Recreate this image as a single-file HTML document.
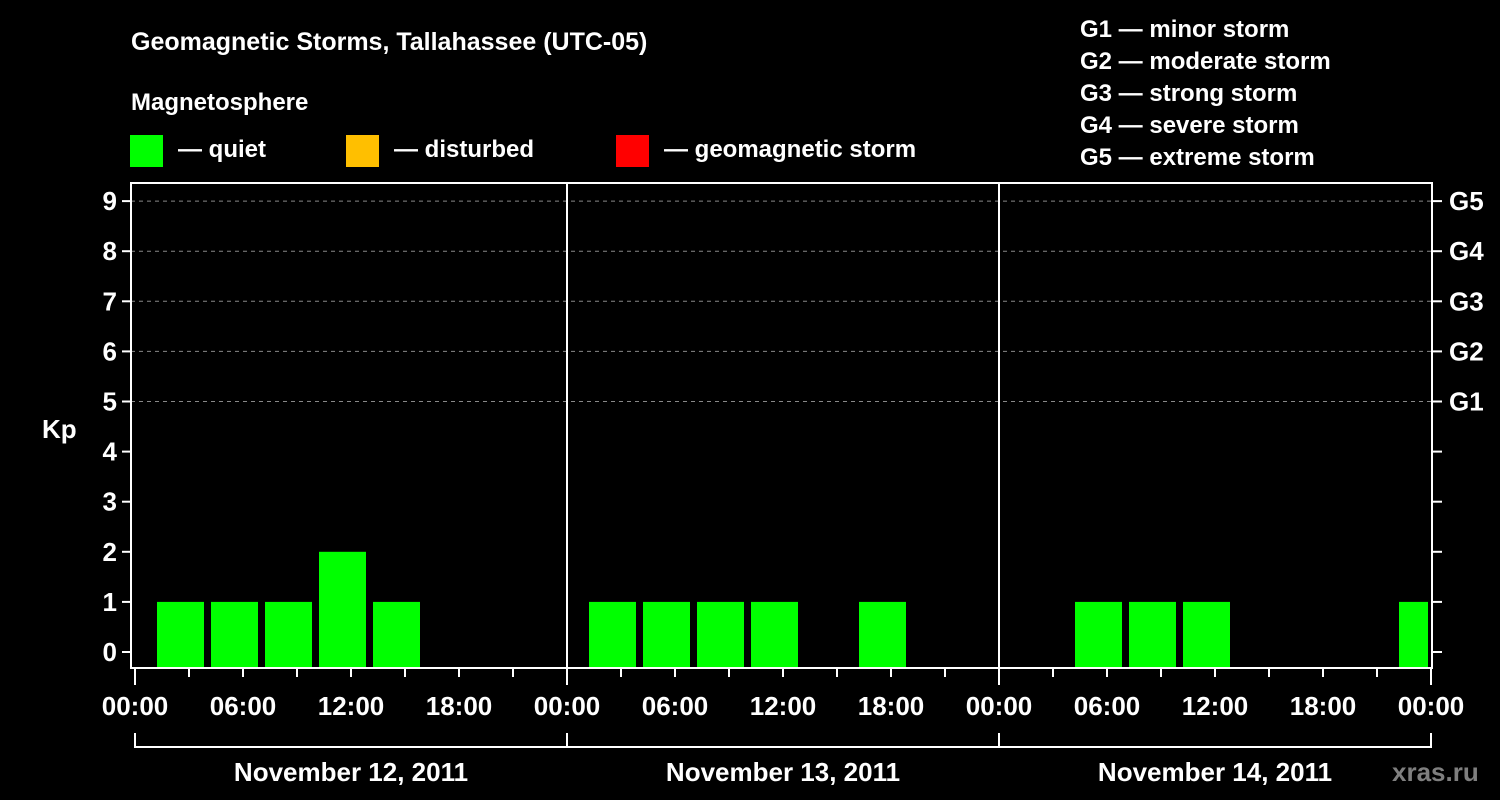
<!DOCTYPE html>
<html><head><meta charset="utf-8"><style>
html,body{margin:0;padding:0;background:#000;width:1500px;height:800px;overflow:hidden}
svg text{font-family:"Liberation Sans",Arial,sans-serif;font-weight:bold;fill:#fff}
</style></head><body>
<svg id="chart" width="1500" height="800" xmlns="http://www.w3.org/2000/svg">
<rect width="1500" height="800" fill="#000"/>
<text x="131" y="50" font-size="25">Geomagnetic Storms, Tallahassee (UTC-05)</text>
<text x="131" y="110" font-size="24">Magnetosphere</text>
<g><rect x="130" y="135" width="33" height="32" fill="#00ff00"/><text x="178" y="157" font-size="24">— quiet</text></g>
<g><rect x="346" y="135" width="33" height="32" fill="#ffbf00"/><text x="394" y="157" font-size="24">— disturbed</text></g>
<g><rect x="616" y="135" width="33" height="32" fill="#ff0000"/><text x="664" y="157" font-size="24">— geomagnetic storm</text></g>
<g font-size="24">
<text x="1080" y="37">G1 — minor storm</text>
<text x="1080" y="69">G2 — moderate storm</text>
<text x="1080" y="101">G3 — strong storm</text>
<text x="1080" y="133">G4 — severe storm</text>
<text x="1080" y="165">G5 — extreme storm</text>
</g>
<text x="42" y="438" font-size="26">Kp</text>
<text x="1392" y="781" font-size="26" style="fill:#7f7f7f">xras.ru</text>
<g id="plot"></g>
</svg>
<script>
const kpValues=[1,1,1,2,1,0,0,0, 1,1,1,1,0,1,0,0, 0,1,1,1,0,0,0,1];
const yTicks=[0,1,2,3,4,5,6,7,8,9];
const gLabels=["G1","G2","G3","G4","G5"];
const gLevels=[5,6,7,8,9];
const dayLabels=["November 12, 2011","November 13, 2011","November 14, 2011"];
const hourLabels=["00:00","06:00","12:00","18:00"];
const binStartHour=1;
const NS="http://www.w3.org/2000/svg";
const X0=135,DAYW=432,L=131,R=1432,T=183,B=668;
const x=h=>X0+h*DAYW/24;
const y=v=>652-v*50.1;
const g=document.getElementById('plot');
function mk(t,a){const e=document.createElementNS(NS,t);for(const k in a)e.setAttribute(k,a[k]);g.appendChild(e);return e;}
// grid
gLevels.forEach(v=>{const e=mk('line',{x1:L,x2:R,y1:y(v),y2:y(v),stroke:'#888','stroke-dasharray':'4,4','stroke-width':1});

});
// bars
kpValues.forEach((v,i)=>{if(v<=0)return;const s=x(binStartHour+i*3)+4,e2=Math.min(x(binStartHour+i*3+3)-3,R-4);
const r=mk('rect',{x:s,y:y(v),width:e2-s,height:B-y(v),fill:v>=5?'#ff0000':(v>=4?'#ffbf00':'#00ff00')});

});
// frame
const f=mk('rect',{x:L,y:T,width:R-L,height:B-T,fill:'none',stroke:'#fff','stroke-width':2});


for(let d=1;d<3;d++){const e=mk('line',{x1:x(d*24),x2:x(d*24),y1:T,y2:B,stroke:'#fff','stroke-width':2});

}
// y ticks
yTicks.forEach(v=>{mk('line',{x1:L-9,x2:L,y1:y(v),y2:y(v),stroke:'#fff','stroke-width':2});
mk('line',{x1:R,x2:R+10,y1:y(v),y2:y(v),stroke:'#fff','stroke-width':2});
const t=mk('text',{x:L-14,y:y(v)+9,'font-size':26,'text-anchor':'end'});t.textContent=v;

});
gLevels.forEach((v,i)=>{const t=mk('text',{x:1449,y:y(v)+9,'font-size':26});t.textContent=gLabels[i];

});
// x ticks
for(let h=0;h<=72;h+=3){const major=h%24==0;mk('line',{x1:x(h),x2:x(h),y1:B,y2:B+(major?17:9),stroke:'#fff','stroke-width':2});
if(h%6==0){const t=mk('text',{x:x(h),y:715,'font-size':26,'text-anchor':'middle'});t.textContent=hourLabels[(h%24)/6];

}}
// bracket
mk('polyline',{points:`${x(0)},733 ${x(0)},747 ${x(72)},747 ${x(72)},733`,fill:'none',stroke:'#fff','stroke-width':2});
for(let d=1;d<3;d++)mk('line',{x1:x(d*24),x2:x(d*24),y1:733,y2:747,stroke:'#fff','stroke-width':2});
dayLabels.forEach((s,d)=>{const t=mk('text',{x:x(d*24+12),y:781,'font-size':26,'text-anchor':'middle'});t.textContent=s;

});
</script>
</body></html>
